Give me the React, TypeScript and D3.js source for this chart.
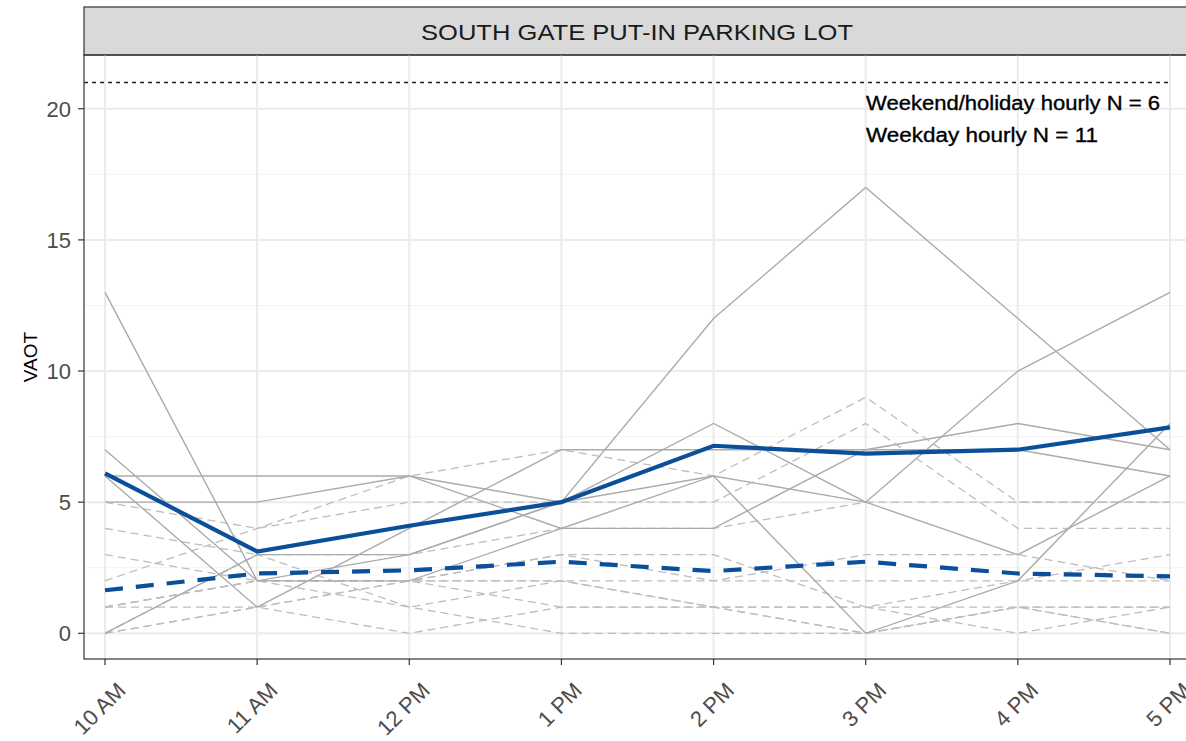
import React from "react";
import * as d3 from "d3";

const hours = ["10 AM", "11 AM", "12 PM", "1 PM", "2 PM", "3 PM", "4 PM", "5 PM"];
const yTicks = [0, 5, 10, 15, 20];
const capacity = 21;

// Weekend / holiday hourly counts (solid grey)
const weekend1 = [13, 2, 3, 5, 12, 17, 12, 7];
const weekend2 = [7, 2, 2, 4, 4, 7, 8, 7];
const weekend3 = [6, 6, 6, 4, 6, 0, 2, 8];
const weekend4 = [5, 5, 6, 5, 6, 5, 3, 6];
const weekend5 = [0, 3, 3, 5, 8, 5, 10, 13];
const weekend6 = [6, 1, 4, 7, 7, 7, 7, 6];

// Weekday hourly counts (dashed grey)
const weekday1 = [2, 4, 6, 7, 6, 9, 5, 5];
const weekday2 = [5, 4, 5, 5, 5, 8, 4, 4];
const weekday3 = [4, 3, 3, 4, 4, 5, 5, 5];
const weekday4 = [3, 2, 2, 3, 3, 1, 2, 3];
const weekday5 = [1, 2, 2, 3, 2, 3, 3, 2];
const weekday6 = [1, 2, 1, 2, 2, 2, 2, 2];
const weekday7 = [1, 2, 2, 2, 1, 0, 1, 1];
const weekday8 = [0, 1, 2, 2, 1, 1, 0, 1];
const weekday9 = [1, 1, 0, 1, 1, 0, 1, 0];
const weekday10 = [0, 1, 2, 1, 1, 1, 1, 1];
const weekday11 = [0, 3, 1, 0, 0, 0, 1, 0];

// Means
const weekendMean = [6.1, 3.12, 4.1, 5.0, 7.15, 6.85, 7.0, 7.85];
const weekdayMean = [1.64, 2.28, 2.4, 2.73, 2.37, 2.73, 2.28, 2.17];

const weekendSeries = [weekend1, weekend2, weekend3, weekend4, weekend5, weekend6];
const weekdaySeries = [weekday1, weekday2, weekday3, weekday4, weekday5, weekday6, weekday7, weekday8, weekday9, weekday10, weekday11];

const W = 1186;
const H = 741;
const panelL = 84;
const panelR = 1191;
const panelT = 55;
const panelB = 659;
const stripT = 7;

export default function App() {
  const x = d3.scalePoint<string>().domain(hours).range([105, 1170]);
  const y = d3.scaleLinear().domain([-0.98, 22.05]).range([panelB, panelT]);
  const line = d3
    .line<number>()
    .x((_, i) => x(hours[i]) as number)
    .y((d) => y(d));
  const minor = [2.5, 7.5, 12.5, 17.5];
  const font = "Liberation Sans, Arial, sans-serif";
  return (
    <svg width={W} height={H} style={{ position: "absolute", left: 0, top: 0, background: "#fff" }}>
      <defs>
        <clipPath id="pc">
          <rect x={panelL} y={panelT} width={panelR - panelL} height={panelB - panelT} />
        </clipPath>
      </defs>
      <rect x={0} y={0} width={W} height={H} fill="#fff" />
      {/* strip */}
      <rect x={panelL} y={stripT} width={panelR - panelL} height={panelT - stripT} fill="#D9D9D9" stroke="#333" strokeWidth={1.2} />
      <text x={637} y={40} textAnchor="middle" fontFamily={font} fontSize={22} fill="#1a1a1a" textLength={432} lengthAdjust="spacingAndGlyphs">
        SOUTH GATE PUT-IN PARKING LOT
      </text>
      {/* panel grid */}
      <g clipPath="url(#pc)">
        {minor.map((v) => (
          <line key={"mi" + v} x1={panelL} x2={panelR} y1={y(v)} y2={y(v)} stroke="#F3F3F3" strokeWidth={1} />
        ))}
        {yTicks.map((v) => (
          <line key={"mj" + v} x1={panelL} x2={panelR} y1={y(v)} y2={y(v)} stroke="#EBEBEB" strokeWidth={2} />
        ))}
        {hours.map((h) => (
          <line key={"vx" + h} x1={x(h)} x2={x(h)} y1={panelT} y2={panelB} stroke="#EBEBEB" strokeWidth={2} />
        ))}
        {weekdaySeries.map((s, i) => (
          <path key={"wd" + i} d={line(s) || ""} fill="none" stroke="#BDBDBD" strokeWidth={1.3} strokeDasharray="8,5" />
        ))}
        {weekendSeries.map((s, i) => (
          <path key={"we" + i} d={line(s) || ""} fill="none" stroke="#ABABAB" strokeWidth={1.4} />
        ))}
        <path d={line(weekdayMean) || ""} fill="none" stroke="#0B4F9A" strokeWidth={4.2} strokeDasharray="18,13" />
        <path d={line(weekendMean) || ""} fill="none" stroke="#0B4F9A" strokeWidth={4.2} />
        <line x1={panelL} x2={1172} y1={y(capacity)} y2={y(capacity)} stroke="#222" strokeWidth={1.6} strokeDasharray="4,4" />
        <text x={866} y={110} fontFamily={font} fontSize={20} fill="#000" stroke="#000" strokeWidth={0.35} textLength={294} lengthAdjust="spacingAndGlyphs">
          Weekend/holiday hourly N = 6
        </text>
        <text x={866} y={142} fontFamily={font} fontSize={20} fill="#000" stroke="#000" strokeWidth={0.35} textLength={232} lengthAdjust="spacingAndGlyphs">
          Weekday hourly N = 11
        </text>
      </g>
      {/* panel border */}
      <rect x={panelL} y={panelT} width={panelR - panelL} height={panelB - panelT} fill="none" stroke="#333" strokeWidth={1.2} />
      {/* y axis */}
      {yTicks.map((v) => (
        <g key={"yt" + v}>
          <line x1={panelL - 6} x2={panelL} y1={y(v)} y2={y(v)} stroke="#333" strokeWidth={1.2} />
          <text x={panelL - 13} y={y(v)} dy="0.36em" textAnchor="end" fontFamily={font} fontSize={22} fill="#4D4D4D">
            {v}
          </text>
        </g>
      ))}
      <text transform={`translate(37,${(panelT + panelB) / 2}) rotate(-90)`} textAnchor="middle" fontFamily={font} fontSize={19} fill="#000">
        VAOT
      </text>
      {/* x axis */}
      {hours.map((h) => (
        <g key={"xt" + h}>
          <line x1={x(h)} x2={x(h)} y1={panelB} y2={panelB + 6} stroke="#333" strokeWidth={1.2} />
          <text transform={`translate(${(x(h) as number) + 11},${panelB + 22}) rotate(-45)`} textAnchor="end" dy="0.7em" fontFamily={font} fontSize={22} fill="#4D4D4D">
            {h}
          </text>
        </g>
      ))}
    </svg>
  );
}
